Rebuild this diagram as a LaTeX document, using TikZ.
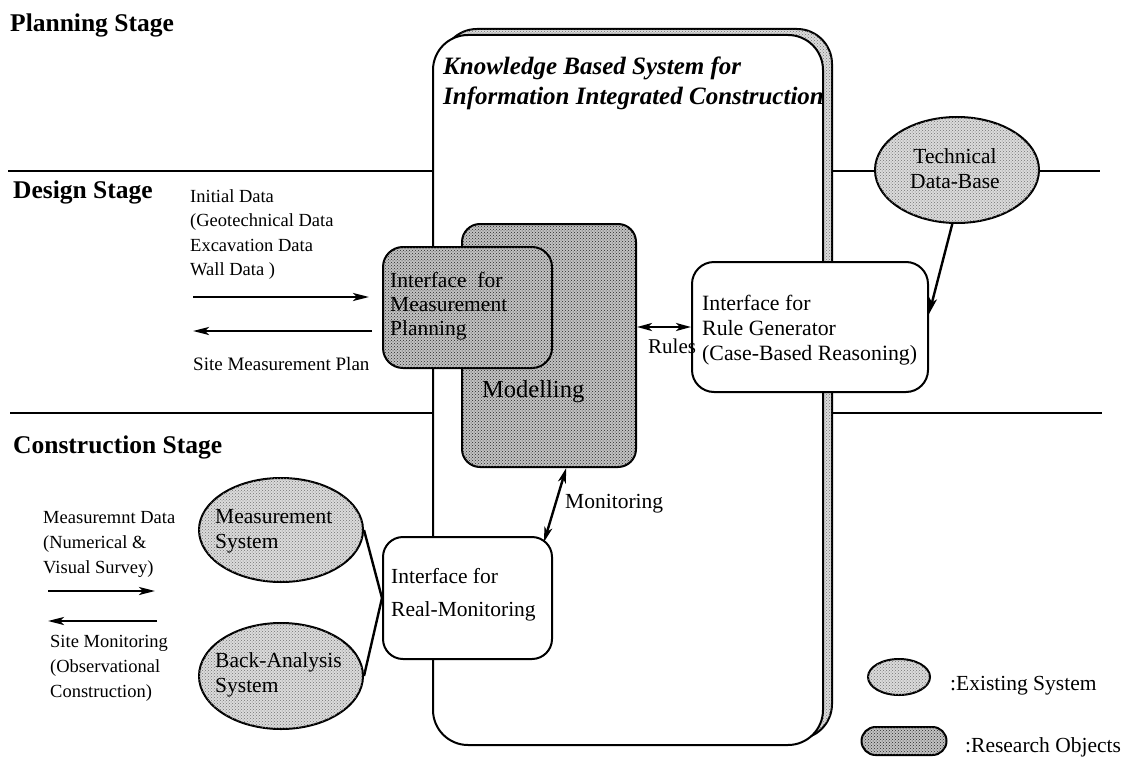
\documentclass[tikz,border=0pt]{standalone}
\usepackage{fontspec}
\setmainfont{Liberation Serif}
\usetikzlibrary{arrows.meta,shapes.geometric,patterns,calc}

% left-aligned and centred line stacks whose baseline is that of the first line
\newcommand\stack[2]{\vtop{\baselineskip=#1\relax\halign{##\hfil\cr#2\crcr}}}
\newcommand\cstack[2]{\vtop{\baselineskip=#1\relax\halign{\hfil##\hfil\cr#2\crcr}}}

\tikzset{
  stage/.style={inner sep=0, anchor=base west, font=\fontsize{25.5}{30}\selectfont\bfseries},
  txt/.style={inner sep=0, anchor=base west, font=\fontsize{21.5}{25}\selectfont},
  note/.style={inner sep=0, anchor=base west, font=\fontsize{18.5}{24}\selectfont},
  existing/.style={fill=black!14, postaction={pattern=crosshatch dots, pattern color=black!55}},
  research/.style={fill=black!24, postaction={pattern=crosshatch dots, pattern color=black!85}},
  rbox/.style={draw, line width=2pt, rounded corners=20, inner sep=0},
  oval/.style={ellipse, draw, line width=2pt, inner sep=0},
  sep/.style={line width=2pt},
  tip/.style={},
  flow/.style={line width=2.4pt, -{Stealth[length=16pt,width=8pt,inset=4pt]}},
  link/.style={line width=2.4pt, {Stealth[length=15pt,width=8pt,inset=4pt]}-{Stealth[length=15pt,width=8pt,inset=4pt]}},
  tie/.style={line width=2.4pt},
}

\begin{document}
\begin{tikzpicture}[x=1pt,y=-1pt]
\useasboundingbox (0,0) rectangle (1126,765);

% stage separators
\draw[sep] (8,170.5) -- (1100,170.5);
\draw[sep] (10,413) -- (1102,413);

% knowledge based system frame with its shadow
\node[rbox, existing, rounded corners=35, minimum width=390, minimum height=710] (kbsshadow) at (637,384) {};
\node[rbox, fill=white, rounded corners=35, minimum width=390, minimum height=710] (kbs) at (628,390) {};
\node[inner sep=0, anchor=base west, font=\fontsize{25}{30}\selectfont\bfseries\itshape] (title) at (443,75)
  {\stack{30pt}{Knowledge Based System for\cr Information Integrated Construction}};

% stage headings
\node[stage] (planning) at (10,32) {Planning Stage};
\node[stage] (design) at (13,198) {Design Stage};
\node[stage] (construction) at (13,453) {Construction Stage};

% research objects
\node[rbox, research, rounded corners=18, minimum width=174, minimum height=243] (model) at (549,345.5) {};
\node[txt, font=\fontsize{24.5}{28}\selectfont] (modeltxt) at (482,397) {Modelling};
\node[rbox, research, minimum width=169, minimum height=121] (imp) at (467.5,307.5) {};
\node[txt] (imptxt) at (390,287) {\stack{24pt}{Interface~~for\cr Measurement\cr Planning}};

% interfaces
\node[rbox, fill=white, rounded corners=22, minimum width=236, minimum height=130] (rule) at (810,327) {};
\node[txt, font=\fontsize{21.8}{25}\selectfont] (ruletxt) at (702,310)
  {\stack{25pt}{Interface for\cr Rule Generator\cr (Case-Based Reasoning)}};
\node[rbox, fill=white, minimum width=169, minimum height=122] (rm) at (467.5,598) {};
\node[txt] (rmtxt) at (391,583) {\stack{33pt}{Interface for\cr Real-Monitoring}};

% existing systems
\node[oval, existing, minimum width=164, minimum height=106] (tdb) at (957,170) {};
\node[txt, anchor=base] (tdbtxt) at (955,163) {\cstack{25pt}{Technical\cr Data-Base}};
\node[oval, existing, minimum width=164, minimum height=104] (ms) at (281,530) {};
\node[txt] (mstxt) at (215,523) {\stack{25pt}{Measurement\cr System}};
\node[oval, existing, minimum width=164, minimum height=106] (ba) at (281,676) {};
\node[txt] (batxt) at (215,667) {\stack{25pt}{Back-Analysis\cr System}};

% connectors
\draw[link] (model.east |- rule.west) -- (rule.west);
\node[txt, font=\fontsize{21}{25}\selectfont] (rules) at (648,353) {Rules};
\draw[link] (model.-82) -- ($(rm.north east)+(-9,6)$);
\node[txt] (monitoring) at (565,508) {Monitoring};
\draw[flow] (tdb.-95) -- ($(rule.east)+(0,-13)$);
\draw[tie] (ms.east) -- (rm.west);
\draw[tie] (ba.east) -- (rm.west);

% design stage data flow
\coordinate (din) at (193,297);
\coordinate (dout) at (193,331);
\draw[flow] (din) -- ($(imp.west |- din)+(-13,0)$);
\draw[flow] ($(imp.west |- dout)+(-10,0)$) -- (dout);
\node[note] (initial) at (190,202)
  {\stack{24.5pt}{Initial Data\cr (Geotechnical Data\cr Excavation Data\cr Wall Data )}};
\node[note, font=\fontsize{19}{24}\selectfont] (plan) at (193,370) {Site Measurement Plan};

% construction stage data flow
\coordinate (cin) at (48,591);
\coordinate (cinend) at (155,591);
\coordinate (cout) at (157,621);
\coordinate (coutend) at (48,621);
\draw[flow] (cin) -- (cinend);
\draw[flow] (cout) -- (coutend);
\node[note] (measdata) at (43,523)
  {\stack{25pt}{Measuremnt Data\cr (Numerical \&\cr Visual Survey)}};
\node[note] (sitemon) at (50,647)
  {\stack{25pt}{Site Monitoring\cr (Observational\cr Construction)}};

% legend
\node[oval, existing, minimum width=62, minimum height=36] (legexist) at (899,677) {};
\node[txt] (legexisttxt) at (950,690) {:Existing System};
\node[rbox, research, rounded corners=14, minimum width=85, minimum height=28] (legres) at (904,741) {};
\node[txt] (legrestxt) at (965,752) {:Research Objects};
\end{tikzpicture}
\end{document}
